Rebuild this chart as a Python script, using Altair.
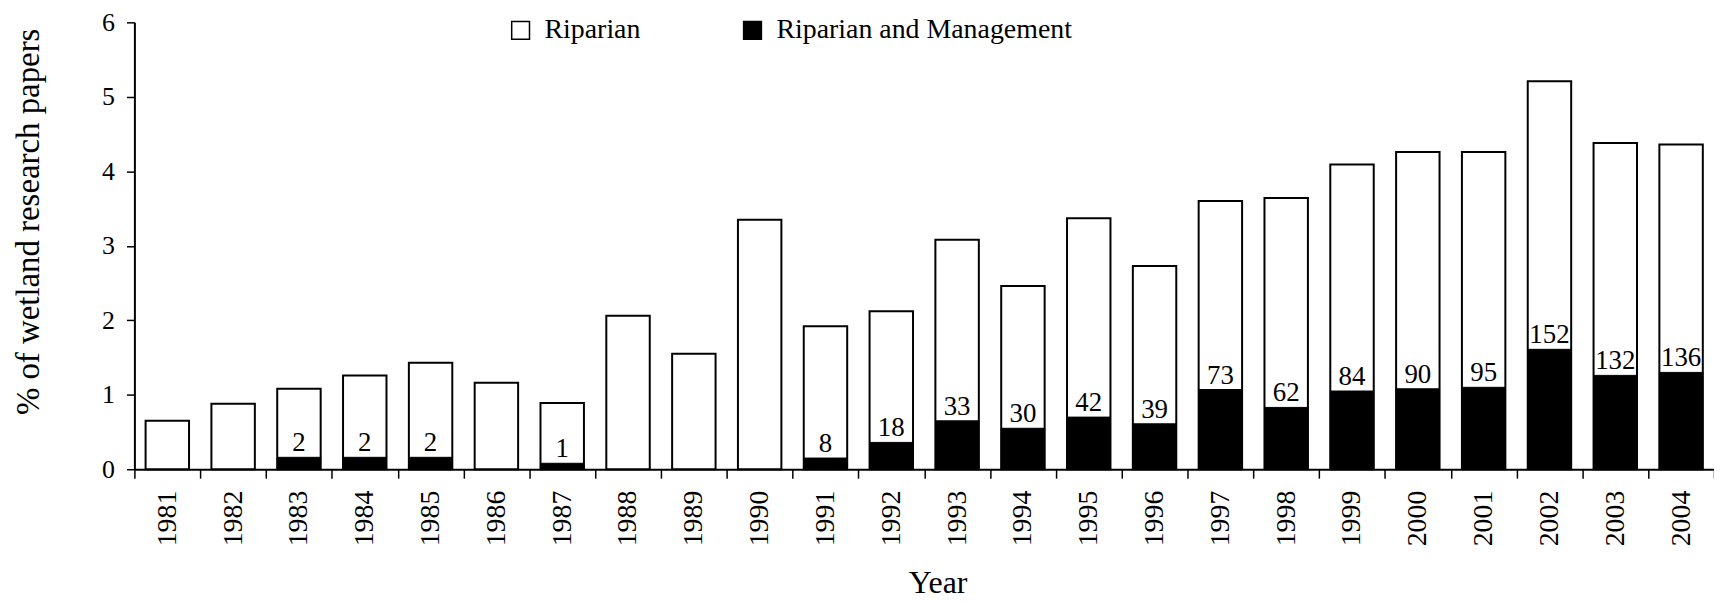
import altair as alt
import pandas as pd

FONT = "Liberation Serif"

years = [str(y) for y in range(1981, 2005)]
riparian = [0.65, 0.88, 1.08, 1.26, 1.43, 1.16, 0.89, 2.06, 1.55, 3.35, 1.92, 2.12,
            3.08, 2.46, 3.37, 2.73, 3.60, 3.64, 4.09, 4.26, 4.26, 5.21, 4.38, 4.36]
management = [0, 0, 0.16, 0.16, 0.16, 0, 0.08, 0, 0, 0, 0.15, 0.36,
              0.65, 0.55, 0.70, 0.61, 1.07, 0.83, 1.05, 1.08, 1.10, 1.61, 1.26, 1.30]
counts = [None, None, 2, 2, 2, None, 1, None, None, None, 8, 18,
          33, 30, 42, 39, 73, 62, 84, 90, 95, 152, 132, 136]
series_names = ["Riparian", "Riparian and Management"]
series_colors = ["white", "black"]

df_long = pd.DataFrame({
    "year": years * 2,
    "series": [series_names[0]] * len(years) + [series_names[1]] * len(years),
    "value": riparian + management,
})
df_lab = pd.DataFrame({"year": years, "value": management, "count": counts}).dropna()
df_lab["label"] = df_lab["count"].astype(int).astype(str)

x_enc = alt.X(
    "year:O",
    scale=alt.Scale(paddingInner=0, paddingOuter=0),
    axis=alt.Axis(
        title="Year", labelAngle=-90, tickBand="extent", tickSize=9, labelPadding=12,
        labelFontSize=28, titleFontSize=32, titleX=807, titleY=114,
        titleBaseline="middle", titleAlign="center",
    ),
)
y_enc = alt.Y(
    "value:Q",
    scale=alt.Scale(domain=[0, 6], nice=False),
    axis=alt.Axis(
        title="% of wetland research papers", values=[0, 1, 2, 3, 4, 5, 6],
        tickSize=8, labelPadding=12, labelFontSize=26, titleFontSize=33,
        titleX=-106, titleY=200, titleBaseline="middle", titleAlign="center",
    ),
)
fill_enc = alt.Fill(
    "series:N",
    scale=alt.Scale(domain=series_names, range=series_colors),
    legend=alt.Legend(
        title=None, orient="none", legendX=374, legendY=-6, direction="horizontal",
        symbolType="square", symbolSize=320, symbolStrokeColor="black",
        symbolStrokeWidth=1.5, labelFont=FONT, labelFontSize=28, labelColor="black",
        labelOffset=10, columnPadding=98, labelLimit=600,
    ),
)

base = alt.Chart(df_long)

white_bars = base.transform_filter(alt.datum.series == series_names[0]).mark_bar(
    width=alt.RelativeBandSize(0.66), stroke="black", strokeWidth=2
).encode(x=x_enc, y=y_enc, fill=fill_enc)

black_bars = base.transform_filter(
    (alt.datum.series == series_names[1]) & (alt.datum.value > 0)
).mark_bar(
    width=alt.RelativeBandSize(0.66), stroke="black", strokeWidth=1
).encode(x=x_enc, y=y_enc, fill=fill_enc)

labels = alt.Chart(df_lab).mark_text(
    font=FONT, fontSize=27, dy=-6, baseline="alphabetic", align="center", color="black"
).encode(x=x_enc, y=y_enc, text="label:N")

chart = alt.layer(white_bars, black_bars, labels).properties(
    width=1587, height=449,
    autosize=alt.AutoSizeParams(type="none"),
    padding={"left": 127, "top": 13, "right": 0, "bottom": 134},
    background="white",
).configure_view(stroke=None).configure_axis(
    domainColor="black", domainWidth=2, tickColor="black", tickWidth=1.5,
    labelFont=FONT, titleFont=FONT, labelColor="black", titleColor="black",
    titleFontWeight="normal", grid=False,
)

chart.save("out.html", embed_options={"renderer": "svg", "actions": False})
